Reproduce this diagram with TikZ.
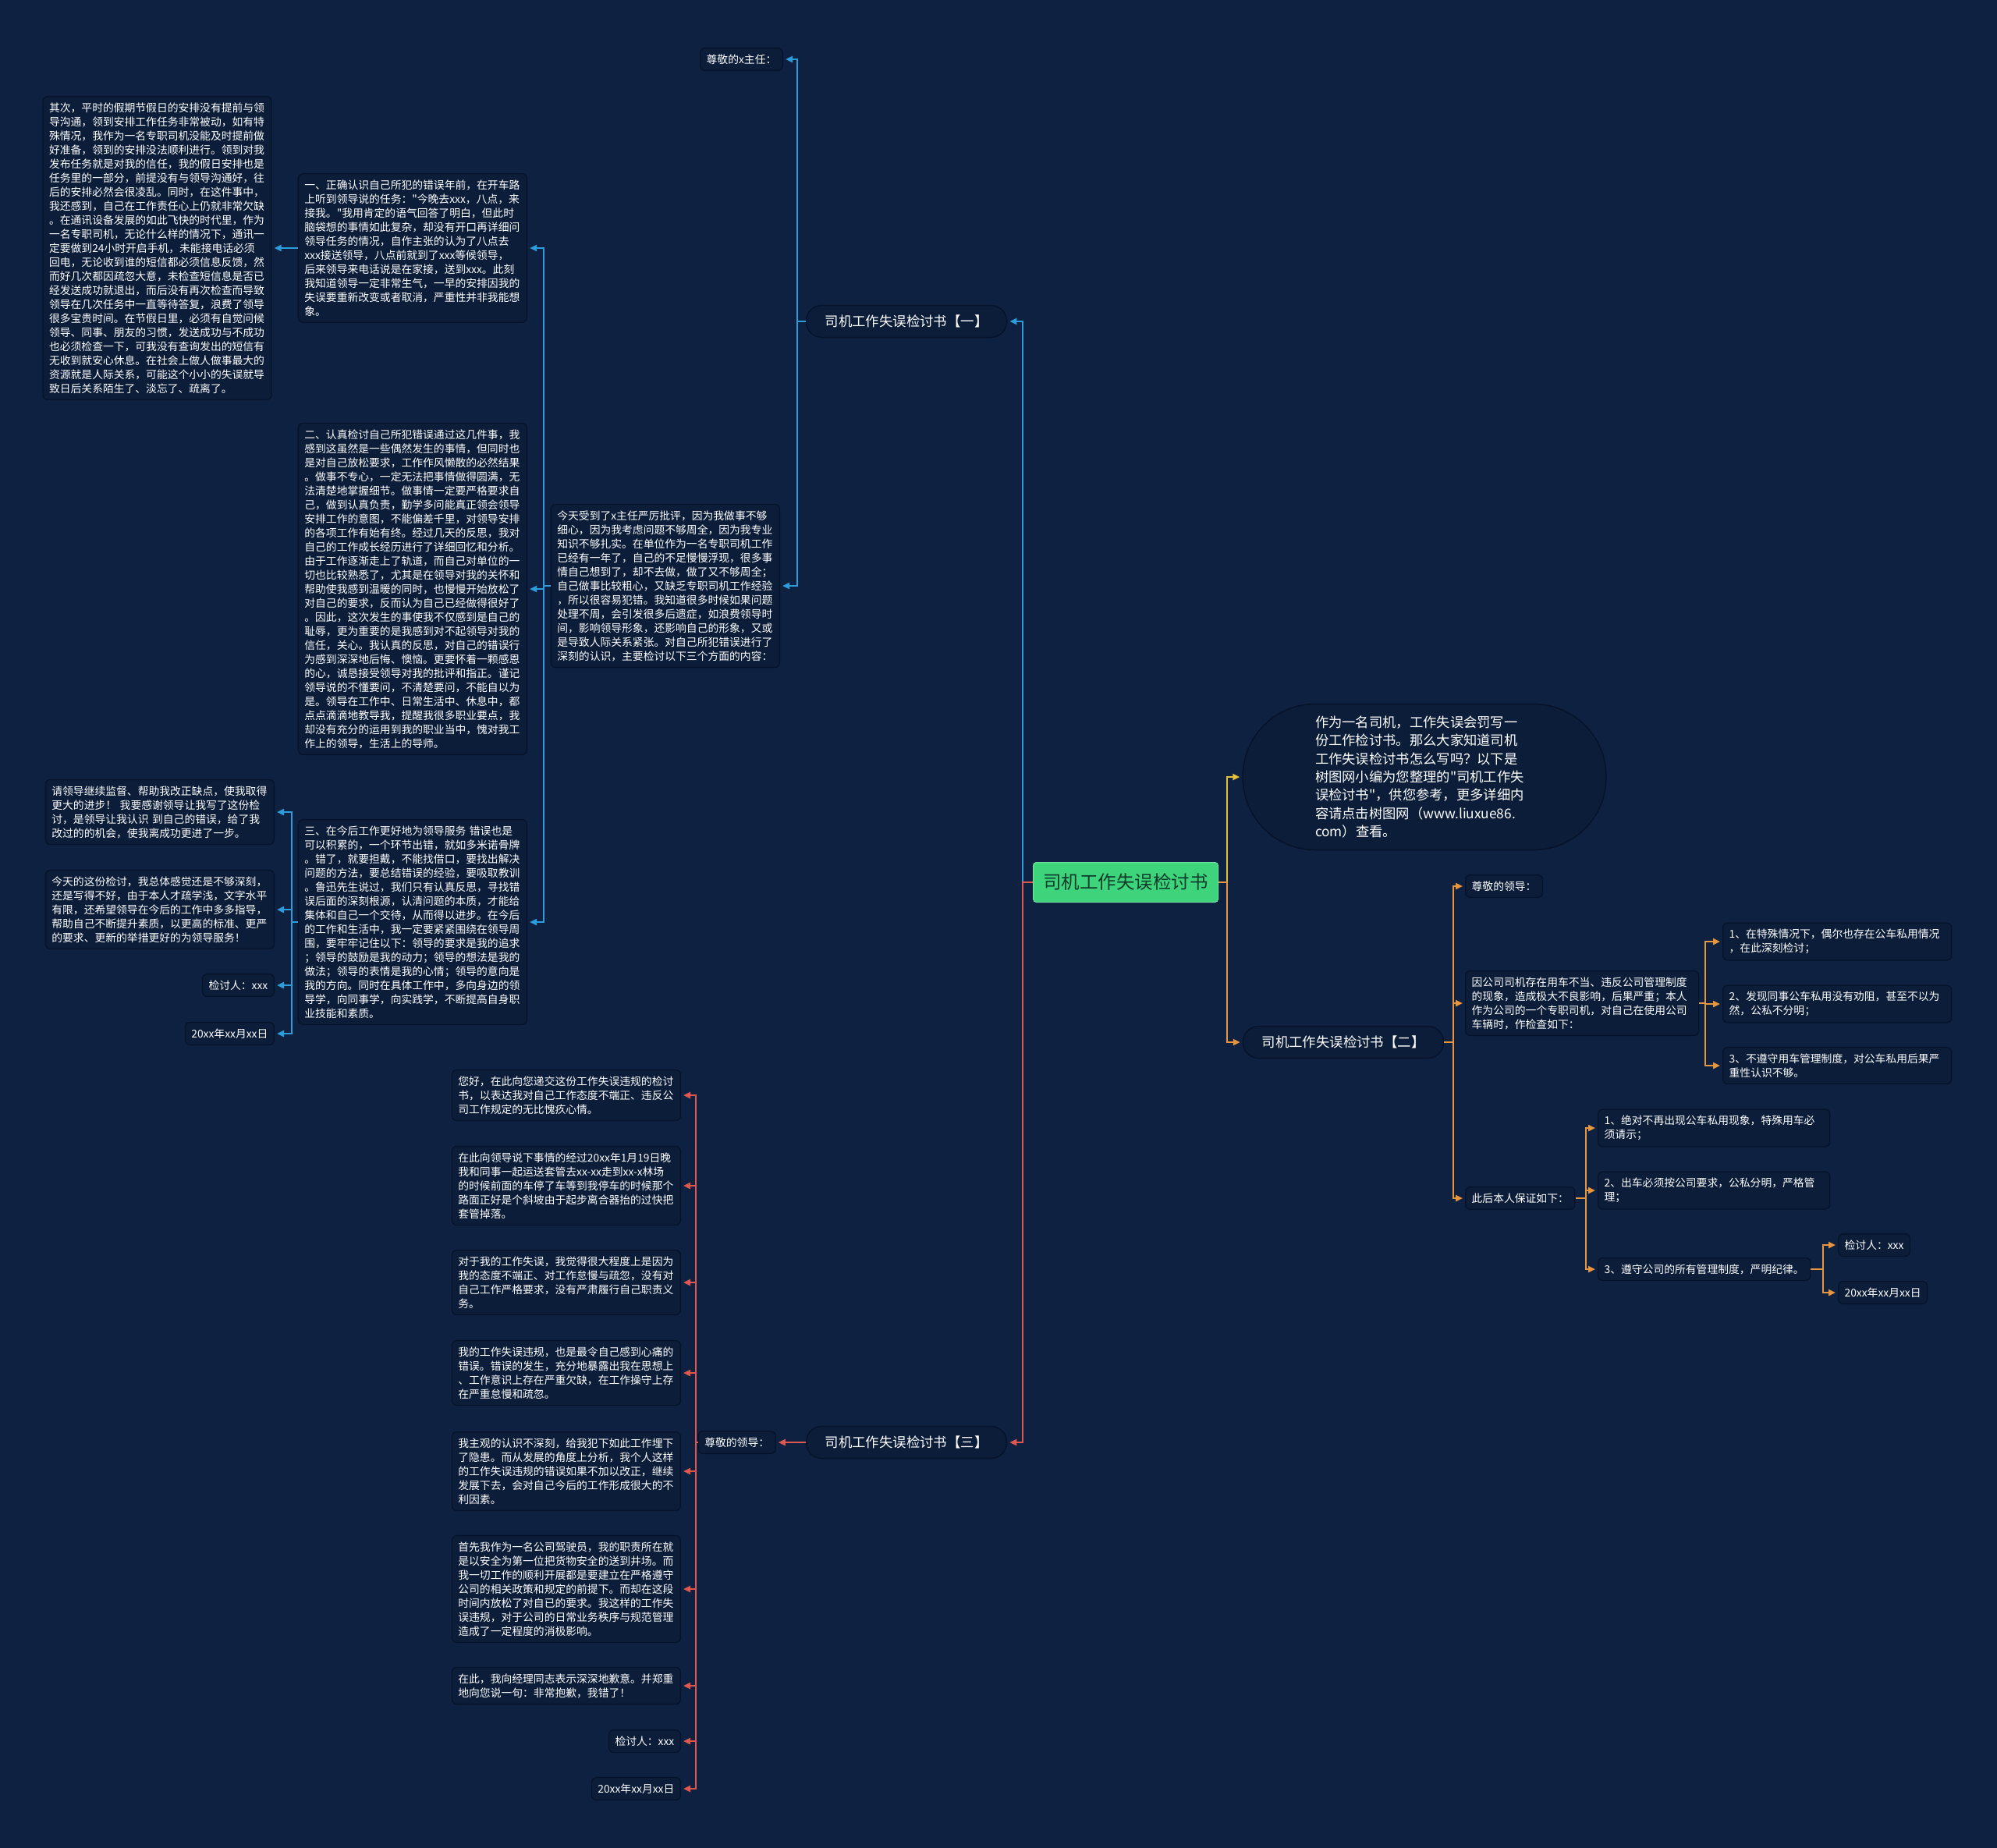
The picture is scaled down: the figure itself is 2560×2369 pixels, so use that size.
\documentclass[tikz,border=0pt]{standalone}
\usepackage{fontspec}
\newfontfamily\cjkfont{Noto Sans CJK SC}
\usepackage{xcolor}
\usepackage{tikz}
\usetikzlibrary{calc}
\usetikzlibrary{arrows.meta, positioning}

\definecolor{bgnavy}{HTML}{0E2141}
\definecolor{boxfill}{HTML}{0B1D39}
\definecolor{boxedge}{HTML}{06132A}
\definecolor{rootgreen}{HTML}{3DD47C}
\definecolor{roottext}{HTML}{0E3B2A}
\definecolor{linkblue}{HTML}{2D9CDB}
\definecolor{linkred}{HTML}{E0574F}
\definecolor{linkorange}{HTML}{E8963E}
\definecolor{linkyellow}{HTML}{E2C038}

\begin{document}
\begin{tikzpicture}[
  x=1pt, y=-1pt,
  >={Triangle[length=9pt,width=8pt]},
  leaf/.style={rounded corners=6pt, draw=boxedge, line width=1.3pt, fill=boxfill, text=white, align=left, inner xsep=8pt, inner ysep=8pt, font=\cjkfont\fontsize{13.8pt}{18pt}\selectfont},
  para/.style={leaf, text width=277pt},
  branch/.style={rounded corners=20pt, draw=boxedge, line width=1.5pt, fill=boxfill, text=white, minimum width=257pt, minimum height=41pt, font=\cjkfont\fontsize{17.4pt}{21pt}\selectfont},
  root/.style={rounded corners=4pt, fill=rootgreen, draw=rootgreen!70!white, line width=1pt, text=roottext, minimum width=237pt, minimum height=51pt, font=\cjkfont\fontsize{23.5pt}{28pt}\selectfont},
  intro/.style={rounded corners=93pt, draw=boxedge, line width=1.5pt, fill=boxfill, text=white, minimum width=466pt, minimum height=187pt, text width=280pt, align=left, font=\cjkfont\fontsize{17.3pt}{23.3pt}\selectfont},
  arrow/.style={->, line width=2.4pt, shorten >=3pt},
  bluearrow/.style={arrow, draw=linkblue},
  redarrow/.style={arrow, draw=linkred},
  orangearrow/.style={arrow, draw=linkorange},
  yellowarrow/.style={arrow, draw=linkyellow}
]

\fill[bgnavy] (0,0) rectangle (2560,2369);
\useasboundingbox (0,0) rectangle (2560,2369);

\node[root] (root) at (1443,1131) {司机工作失误检讨书};

\node[branch] (b1) at (1162,412) {司机工作失误检讨书【一】};
\node[branch] (b2) at (1722,1336) {司机工作失误检讨书【二】};
\node[branch] (b3) at (1162,1849) {司机工作失误检讨书【三】};

\node[intro] (intro) at (1826,996) {作为一名司机，工作失误会罚写一\\
份工作检讨书。那么大家知道司机\\
工作失误检讨书怎么写吗？以下是\\
树图网小编为您整理的"司机工作失\\
误检讨书"，供您参考，更多详细内\\
容请点击树图网（www.liuxue86.\\
com）查看。};

\node[leaf, anchor=east] (zhuren) at (1004,76) {尊敬的x主任：};

\node[para, anchor=east] (jintian) at (1000,751) {今天受到了x主任严厉批评，因为我做事不够\\
细心，因为我考虑问题不够周全，因为我专业\\
知识不够扎实。在单位作为一名专职司机工作\\
已经有一年了，自己的不足慢慢浮现，很多事\\
情自己想到了，却不去做，做了又不够周全；\\
自己做事比较粗心，又缺乏专职司机工作经验\\
，所以很容易犯错。我知道很多时候如果问题\\
处理不周，会引发很多后遗症，如浪费领导时\\
间，影响领导形象，还影响自己的形象，又或\\
是导致人际关系紧张。对自己所犯错误进行了\\
深刻的认识，主要检讨以下三个方面的内容：};

\node[para, anchor=east] (yi) at (676,318) {一、正确认识自己所犯的错误年前，在开车路\\
上听到领导说的任务："今晚去xxx，八点，来\\
接我。"我用肯定的语气回答了明白，但此时\\
脑袋想的事情如此复杂，却没有开口再详细问\\
领导任务的情况，自作主张的认为了八点去\\
xxx接送领导，八点前就到了xxx等候领导，\\
后来领导来电话说是在家接，送到xxx。此刻\\
我知道领导一定非常生气，一早的安排因我的\\
失误要重新改变或者取消，严重性并非我能想\\
象。};

\node[para, left=33pt of yi] (qici) {其次，平时的假期节假日的安排没有提前与领\\
导沟通，领到安排工作任务非常被动，如有特\\
殊情况，我作为一名专职司机没能及时提前做\\
好准备，领到的安排没法顺利进行。领到对我\\
发布任务就是对我的信任，我的假日安排也是\\
任务里的一部分，前提没有与领导沟通好，往\\
后的安排必然会很凌乱。同时，在这件事中，\\
我还感到，自己在工作责任心上仍就非常欠缺\\
。在通讯设备发展的如此飞快的时代里，作为\\
一名专职司机，无论什么样的情况下，通讯一\\
定要做到24小时开启手机，未能接电话必须\\
回电，无论收到谁的短信都必须信息反馈，然\\
而好几次都因疏忽大意，未检查短信息是否已\\
经发送成功就退出，而后没有再次检查而导致\\
领导在几次任务中一直等待答复，浪费了领导\\
很多宝贵时间。在节假日里，必须有自觉问候\\
领导、同事、朋友的习惯，发送成功与不成功\\
也必须检查一下，可我没有查询发出的短信有\\
无收到就安心休息。在社会上做人做事最大的\\
资源就是人际关系，可能这个小小的失误就导\\
致日后关系陌生了、淡忘了、疏离了。};

\node[para, anchor=east] (er) at (676,755) {二、认真检讨自己所犯错误通过这几件事，我\\
感到这虽然是一些偶然发生的事情，但同时也\\
是对自己放松要求，工作作风懒散的必然结果\\
。做事不专心，一定无法把事情做得圆满，无\\
法清楚地掌握细节。做事情一定要严格要求自\\
己，做到认真负责，勤学多问能真正领会领导\\
安排工作的意图，不能偏差千里，对领导安排\\
的各项工作有始有终。经过几天的反思，我对\\
自己的工作成长经历进行了详细回忆和分析。\\
由于工作逐渐走上了轨道，而自己对单位的一\\
切也比较熟悉了，尤其是在领导对我的关怀和\\
帮助使我感到温暖的同时，也慢慢开始放松了\\
对自己的要求，反而认为自己已经做得很好了\\
。因此，这次发生的事使我不仅感到是自己的\\
耻辱，更为重要的是我感到对不起领导对我的\\
信任，关心。我认真的反思，对自己的错误行\\
为感到深深地后悔、懊恼。更要怀着一颗感恩\\
的心，诚恳接受领导对我的批评和指正。谨记\\
领导说的不懂要问，不清楚要问，不能自以为\\
是。领导在工作中、日常生活中、休息中，都\\
点点滴滴地教导我，提醒我很多职业要点，我\\
却没有充分的运用到我的职业当中，愧对我工\\
作上的领导，生活上的导师。};

\node[para, anchor=east] (san) at (676,1182) {三、在今后工作更好地为领导服务 错误也是\\
可以积累的，一个环节出错，就如多米诺骨牌\\
。错了，就要担戴，不能找借口，要找出解决\\
问题的方法，要总结错误的经验，要吸取教训\\
。鲁迅先生说过，我们只有认真反思，寻找错\\
误后面的深刻根源，认清问题的本质，才能给\\
集体和自己一个交待，从而得以进步。在今后\\
的工作和生活中，我一定要紧紧围绕在领导周\\
围，要牢牢记住以下：领导的要求是我的追求\\
；领导的鼓励是我的动力；领导的想法是我的\\
做法；领导的表情是我的心情；领导的意向是\\
我的方向。同时在具体工作中，多向身边的领\\
导学，向同事学，向实践学，不断提高自身职\\
业技能和素质。};

\node[para, anchor=east] (qing) at (352,1041) {请领导继续监督、帮助我改正缺点，使我取得\\
更大的进步！ 我要感谢领导让我写了这份检\\
讨，是领导让我认识 到自己的错误，给了我\\
改过的的机会，使我离成功更进了一步。};
\node[para, anchor=east] (zongti) at (352,1166) {今天的这份检讨，我总体感觉还是不够深刻，\\
还是写得不好，由于本人才疏学浅，文字水平\\
有限，还希望领导在今后的工作中多多指导，\\
帮助自己不断提升素质，以更高的标准、更严\\
的要求、更新的举措更好的为领导服务！};
\node[leaf, anchor=east] (sign1) at (352,1263) {检讨人：xxx};
\node[leaf, anchor=east] (date1) at (352,1325) {20xx年xx月xx日};

\node[leaf, left=38pt of b3] (lingdao3) {尊敬的领导：};
\node[para, anchor=east] (r1) at (873,1404) {您好，在此向您递交这份工作失误违规的检讨\\
书，以表达我对自己工作态度不端正、违反公\\
司工作规定的无比愧疚心情。};
\node[para, anchor=east] (r2) at (873,1520) {在此向领导说下事情的经过20xx年1月19日晚\\
我和同事一起运送套管去xx-xx走到xx-x林场\\
的时候前面的车停了车等到我停车的时候那个\\
路面正好是个斜坡由于起步离合器抬的过快把\\
套管掉落。};
\node[para, anchor=east] (r3) at (873,1644) {对于我的工作失误，我觉得很大程度上是因为\\
我的态度不端正、对工作怠慢与疏忽，没有对\\
自己工作严格要求，没有严肃履行自己职责义\\
务。};
\node[para, anchor=east] (r4) at (873,1760) {我的工作失误违规，也是最令自己感到心痛的\\
错误。错误的发生，充分地暴露出我在思想上\\
、工作意识上存在严重欠缺，在工作操守上存\\
在严重怠慢和疏忽。};
\node[para, anchor=east] (r5) at (873,1886) {我主观的认识不深刻，给我犯下如此工作埋下\\
了隐患。而从发展的角度上分析，我个人这样\\
的工作失误违规的错误如果不加以改正，继续\\
发展下去，会对自己今后的工作形成很大的不\\
利因素。};
\node[para, anchor=east] (r6) at (873,2037) {首先我作为一名公司驾驶员，我的职责所在就\\
是以安全为第一位把货物安全的送到井场。而\\
我一切工作的顺利开展都是要建立在严格遵守\\
公司的相关政策和规定的前提下。而却在这段\\
时间内放松了对自已的要求。我这样的工作失\\
误违规，对于公司的日常业务秩序与规范管理\\
造成了一定程度的消极影响。};
\node[para, anchor=east] (r7) at (873,2161) {在此，我向经理同志表示深深地歉意。并郑重\\
地向您说一句：非常抱歉，我错了！};
\node[leaf, anchor=east] (sign3) at (873,2232) {检讨人：xxx};
\node[leaf, anchor=east] (date3) at (873,2293) {20xx年xx月xx日};

\node[leaf, anchor=west] (lingdao2) at (1878,1136) {尊敬的领导：};
\node[para, anchor=west, text width=283pt] (yinsi) at (1878,1286) {因公司司机存在用车不当、违反公司管理制度\\
的现象，造成极大不良影响，后果严重；本人\\
作为公司的一个专职司机，对自己在使用公司\\
车辆时，作检查如下：};
\node[para, anchor=west] (s1) at (2208,1207) {1、在特殊情况下，偶尔也存在公车私用情况\\
，在此深刻检讨；};
\node[para, anchor=west] (s2) at (2208,1287) {2、发现同事公车私用没有劝阻，甚至不以为\\
然，公私不分明；};
\node[para, anchor=west] (s3) at (2208,1366) {3、不遵守用车管理制度，对公车私用后果严\\
重性认识不够。};
\node[leaf, anchor=west] (cihou) at (1878,1536) {此后本人保证如下：};
\node[para, anchor=west, text width=281pt] (c1) at (2048,1446) {1、绝对不再出现公车私用现象，特殊用车必\\
须请示；};
\node[para, anchor=west, text width=281pt] (c2) at (2048,1526) {2、出车必须按公司要求，公私分明，严格管\\
理；};
\node[leaf, anchor=west] (c3) at (2048,1627) {3、遵守公司的所有管理制度，严明纪律。};
\node[leaf, anchor=west] (sign2) at (2356,1596) {检讨人：xxx};
\node[leaf, anchor=west] (date2) at (2356,1657) {20xx年xx月xx日};

\coordinate (tl) at (1311,1131);
\coordinate (tr) at (1573,1131);
\coordinate (t1) at (1022,412);
\coordinate (t1a) at (697,751);
\coordinate (t1c) at (374,1182);
\coordinate (t3) at (892,1849);
\coordinate (t2) at (1863,1336);
\coordinate (t2a) at (2186,1286);
\coordinate (t2b) at (2033,1536);
\coordinate (t2c) at (2337,1627);

\draw[bluearrow] (root.west) -- (tl) |- (b1.east);
\draw[redarrow] (root.west) -- (tl) |- (b3.east);
\draw[yellowarrow] (root.east) -- (tr) |- (intro.west);
\draw[orangearrow] (root.east) -- (tr) |- (b2.west);

\foreach \n in {zhuren,jintian}
  \draw[bluearrow] (b1.west) -- (t1) |- (\n.east);
\foreach \n in {yi,er,san}
  \draw[bluearrow] (jintian.west) -- (t1a) |- (\n.east);
\draw[bluearrow] (yi.west) -- (qici.east);
\foreach \n in {qing,zongti,sign1,date1}
  \draw[bluearrow] (san.west) -- (t1c) |- (\n.east);

\draw[redarrow] (b3.west) -- (lingdao3.east);
\foreach \n in {r1,r2,r3,r4,r5,r6,r7,sign3,date3}
  \draw[redarrow] (lingdao3.west) -- (t3) |- (\n.east);

\foreach \n in {lingdao2,yinsi,cihou}
  \draw[orangearrow] (b2.east) -- (t2) |- (\n.west);
\foreach \n in {s1,s2,s3}
  \draw[orangearrow] (yinsi.east) -- (t2a) |- (\n.west);
\foreach \n in {c1,c2,c3}
  \draw[orangearrow] (cihou.east) -- (t2b) |- (\n.west);
\foreach \n in {sign2,date2}
  \draw[orangearrow] (c3.east) -- (t2c) |- (\n.west);

\end{tikzpicture}
\end{document}
